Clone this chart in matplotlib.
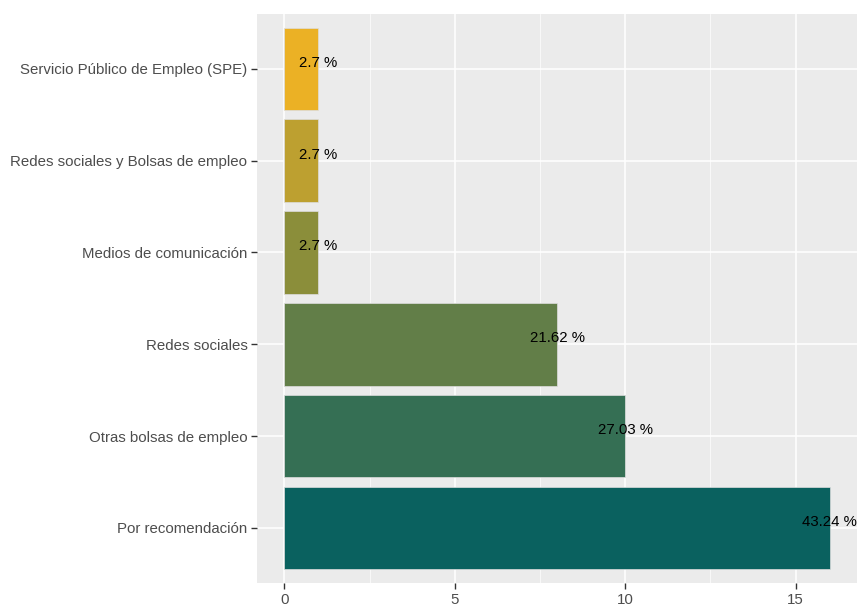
import matplotlib
matplotlib.use('Agg')
import matplotlib.pyplot as plt
from matplotlib.ticker import MultipleLocator

# Datos (de abajo hacia arriba)
categorias = ['Por recomendación', 'Otras bolsas de empleo', 'Redes sociales',
              'Medios de comunicación', 'Redes sociales y Bolsas de empleo',
              'Servicio Público de Empleo (SPE)']
conteos = [16, 10, 8, 1, 1, 1]
porcentajes = ['43.24 %', '27.03 %', '21.62 %', '2.7 %', '2.7 %', '2.7 %']
colores = ['#0A615F', '#356F54', '#627E48', '#8B8E3A', '#BDA030', '#EBB125']

plt.rcParams['font.family'] = ['Liberation Sans', 'DejaVu Sans']

fig = plt.figure(figsize=(8.57, 6.04), dpi=100)
ax = fig.add_axes([0.300, 0.035, 0.700, 0.942])
ax.set_facecolor('#EBEBEB')

pos = range(len(categorias))
ax.barh(pos, conteos, height=0.9, color=colores, edgecolor='#DDDDDD',
        linewidth=0.5, zorder=3)

# Etiquetas de porcentaje
for y, v, t in zip(pos, conteos, porcentajes):
    ax.text(v, y - 0.01, t, ha='center', va='bottom', fontsize=10.8,
            color='black', zorder=4)

ax.set_xlim(-0.8, 16.8)
ax.set_ylim(-0.6, 5.6)
ax.set_yticks(list(pos))
ax.set_yticklabels(categorias)
ax.xaxis.set_major_locator(MultipleLocator(5))
ax.xaxis.set_minor_locator(MultipleLocator(2.5))

ax.grid(which='major', color='white', linewidth=1.1, zorder=0)
ax.grid(which='minor', axis='x', color='white', linewidth=0.5, zorder=0)
ax.set_axisbelow(True)

for s in ax.spines.values():
    s.set_visible(False)

ax.tick_params(axis='both', which='major', length=4, width=1, color='#333333',
               labelsize=10.8, labelcolor='#4D4D4D', pad=3)
ax.tick_params(axis='x', which='minor', length=0)

fig.savefig('out.png', dpi=100)
